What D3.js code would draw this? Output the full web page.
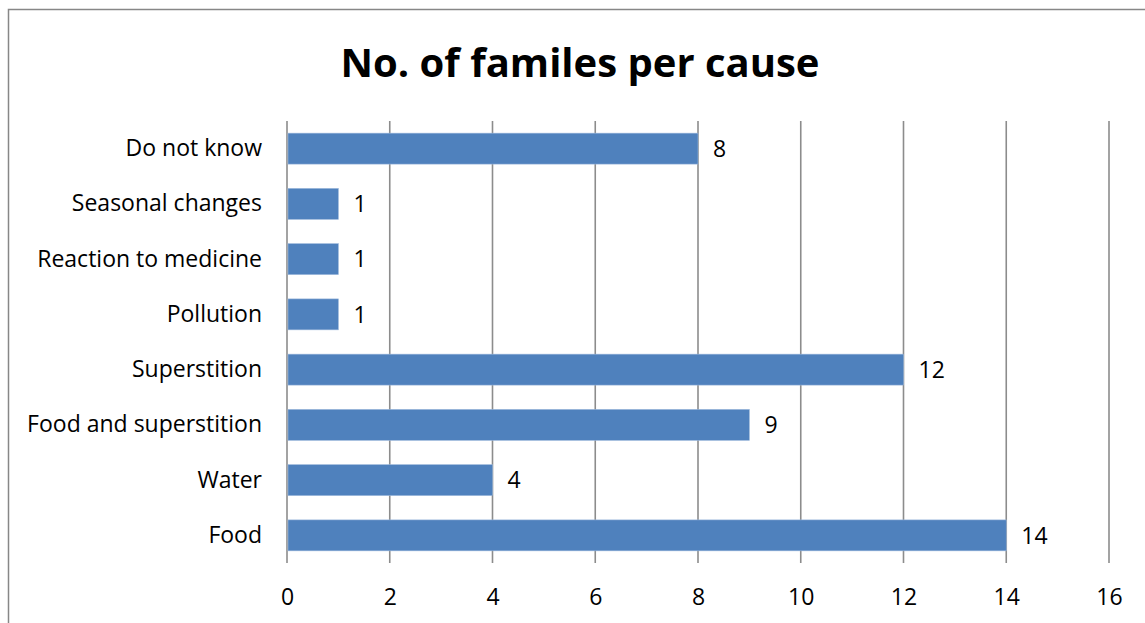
<!DOCTYPE html>
<html>
<head>
<meta charset="utf-8">
<script src="https://cdn.jsdelivr.net/npm/d3@7"></script>
<style>
  html, body { margin: 0; padding: 0; background: #fff; }
  svg { display: block; }
  text { font-family: "Open Sans", "Liberation Sans", sans-serif; fill: #000; }
</style>
</head>
<body>
<svg id="chart" width="1145" height="623"></svg>
<script>
// Causes, listed top to bottom as drawn
const categories = ["Do not know", "Seasonal changes", "Reaction to medicine", "Pollution",
                    "Superstition", "Food and superstition", "Water", "Food"];
const families = [8, 1, 1, 1, 12, 9, 4, 14];
const xTicks = [0, 2, 4, 6, 8, 10, 12, 14, 16];
const chartTitle = "No. of familes per cause";

const svg = d3.select("#chart");
const W = 1145, H = 623;
const plot = { left: 287, right: 1109, top: 121, bottom: 563 };
const labelSize = "23px";

// Outer chart border
svg.append("rect")
  .attr("x", 8.5).attr("y", 9.5)
  .attr("width", W + 20).attr("height", H + 20)
  .attr("fill", "none").attr("stroke", "#878787").attr("stroke-width", 1.5);

svg.append("text")
  .attr("x", 580).attr("y", 77)
  .attr("text-anchor", "middle")
  .style("font-family", "'Open Sans', 'Liberation Sans', sans-serif")
  .style("font-weight", "700").style("font-size", "40px")
  .text(chartTitle);

const x = d3.scaleLinear().domain([0, 16]).range([plot.left, plot.right]);
const y = d3.scaleBand().domain(categories).range([plot.top, plot.bottom]).paddingInner(0.44).paddingOuter(0.22);

// Vertical gridlines (extend past the plot as tick marks)
svg.append("g").selectAll("line").data(xTicks).join("line")
  .attr("x1", d => x(d)).attr("x2", d => x(d))
  .attr("y1", plot.top).attr("y2", plot.bottom)
  .attr("stroke", "#8c8c8c").attr("stroke-width", 1.6);

// Bars
svg.append("g").selectAll("rect").data(categories).join("rect")
  .attr("x", x(0) + 1)
  .attr("y", d => y(d))
  .attr("width", (d, i) => x(families[i]) - x(0) - 1)
  .attr("height", y.bandwidth())
  .attr("fill", "#4f81bd")
  .attr("stroke", "#9bb7db").attr("stroke-width", 0.6);

// Value labels
svg.append("g").selectAll("text").data(categories).join("text")
  .attr("x", (d, i) => x(families[i]) + 15)
  .attr("y", d => y(d) + y.bandwidth() / 2)
  .attr("dy", "0.36em")
  .style("font-size", labelSize)
  .text((d, i) => families[i]);

// Category axis labels
const yAxis = d3.axisLeft(y).tickSize(0).tickPadding(25);
const gy = svg.append("g").attr("transform", `translate(${plot.left},0)`).call(yAxis);
gy.select(".domain").remove();
gy.selectAll("text")
  .style("font-size", labelSize)
  .style("font-family", "'Open Sans', 'Liberation Sans', sans-serif")
  .attr("fill", "#000");

// Value axis labels
const xAxis = d3.axisBottom(x).tickValues(xTicks).tickSize(0).tickPadding(26);
const gx = svg.append("g").attr("transform", `translate(0,${plot.bottom})`).call(xAxis);
gx.select(".domain").remove();
gx.selectAll("text")
  .style("font-size", labelSize)
  .style("font-family", "'Open Sans', 'Liberation Sans', sans-serif")
  .attr("fill", "#000");
</script>
</body>
</html>
